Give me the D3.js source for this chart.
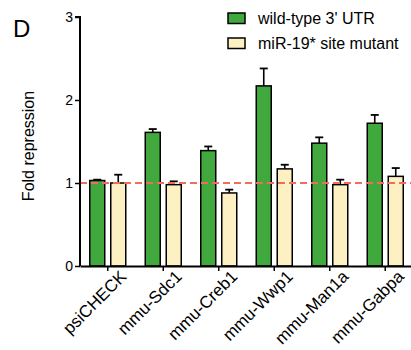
<!DOCTYPE html>
<html>
<head>
<meta charset="utf-8">
<script src="https://cdn.jsdelivr.net/npm/d3@7"></script>
<style>
  body { margin: 0; background: #fff; }
  text { font-family: "Liberation Sans", Arial, sans-serif; }
</style>
</head>
<body>
<svg id="viz" width="411" height="350"></svg>
<script>
// Fold repression per 3' UTR reporter
const categories = ["psiCHECK", "mmu-Sdc1", "mmu-Creb1", "mmu-Wwp1", "mmu-Man1a", "mmu-Gabpa"];
const series = ["wild-type 3' UTR", "miR-19* site mutant"];
const wildType = [1.03, 1.61, 1.39, 2.17, 1.48, 1.72];
const wildTypeErr = [0.01, 0.04, 0.05, 0.21, 0.07, 0.10];
const mutant = [1.00, 0.98, 0.88, 1.17, 0.98, 1.08];
const mutantErr = [0.10, 0.04, 0.04, 0.05, 0.06, 0.10];
const yTicks = [0, 1, 2, 3];

const colors = ["#41a83e", "#fdf1c3"];

const svg = d3.select("#viz");

// Step 1: scales
const x0 = d3.scaleBand()
    .domain(categories)
    .range([80, 413]);

const x1 = d3.scaleBand()
    .domain(series)
    .range([-18, 18])
    .paddingInner(0.2857);

const y = d3.scaleLinear()
    .domain([0, 3])
    .range([266, 17]);

const values = [wildType, mutant];
const errors = [wildTypeErr, mutantErr];

// Step 2: bars + error bars
series.forEach((s, si) => {
    const grp = svg.append("g");
    categories.forEach((c, ci) => {
        const cx = x0(c) + x0.bandwidth() / 2 + x1(s);
        const v = values[si][ci];
        const e = errors[si][ci];
        const mid = cx + x1.bandwidth() / 2;

        // error bar (upper only)
        grp.append("line")
            .attr("x1", mid).attr("x2", mid)
            .attr("y1", y(v)).attr("y2", y(v + e))
            .attr("stroke", "#000").attr("stroke-width", 1.6);
        grp.append("line")
            .attr("x1", mid - 4).attr("x2", mid + 4)
            .attr("y1", y(v + e)).attr("y2", y(v + e))
            .attr("stroke", "#000").attr("stroke-width", 1.8);

        grp.append("rect")
            .attr("x", cx)
            .attr("y", y(v))
            .attr("width", x1.bandwidth())
            .attr("height", y(0) - y(v))
            .attr("fill", colors[si])
            .attr("stroke", "#000")
            .attr("stroke-width", 1.5);
    });
});

// Step 3: reference line at 1
svg.append("line")
    .attr("x1", 80).attr("x2", 411)
    .attr("y1", y(1)).attr("y2", y(1))
    .attr("stroke", "#f26b5b")
    .attr("stroke-width", 2)
    .attr("stroke-dasharray", "7,4");

// Step 4: axes
const yAxis = d3.axisLeft(y)
    .tickValues(yTicks)
    .tickSize(5)
    .tickPadding(2)
    .tickFormat(d3.format("d"));

const yG = svg.append("g")
    .attr("transform", "translate(80,0)")
    .call(yAxis);
yG.select(".domain").attr("stroke-width", 2).attr("d", `M-5,${y(3)}H0V${y(0)}`);
yG.selectAll(".tick line").attr("stroke-width", 1.5);
yG.selectAll("text")
    .attr("font-size", "14px")
    .attr("font-family", "Liberation Sans, Arial, sans-serif")
    .attr("fill", "#000");

const xAxis = d3.axisBottom(x0)
    .tickSize(5)
    .tickSizeOuter(0);

const xG = svg.append("g")
    .attr("transform", `translate(0,${y(0)})`)
    .call(xAxis);
xG.select(".domain").attr("stroke-width", 2);
xG.selectAll(".tick line").attr("stroke-width", 1.5);
xG.selectAll("text")
    .attr("font-size", "17px")
    .attr("font-family", "Liberation Sans, Arial, sans-serif")
    .attr("fill", "#000")
    .attr("text-anchor", "end")
    .attr("dy", 0)
    .attr("transform", "translate(14,6) rotate(-45)");

// Y-axis label
svg.append("text")
    .attr("transform", "translate(34,146) rotate(-90)")
    .attr("text-anchor", "middle")
    .attr("font-size", "16px")
    .text("Fold repression");

// Panel letter
svg.append("text")
    .attr("x", 13)
    .attr("y", 37)
    .attr("font-size", "24px")
    .text("D");

// Legend
series.forEach((s, i) => {
    const ly = 13 + i * 25;
    svg.append("rect")
        .attr("x", 228)
        .attr("y", ly)
        .attr("width", 17)
        .attr("height", 10.5)
        .attr("fill", colors[i])
        .attr("stroke", "#000")
        .attr("stroke-width", 1.5);
    svg.append("text")
        .attr("x", 258)
        .attr("y", ly + 11)
        .attr("font-size", "16px")
        .text(s);
});
</script>
</body>
</html>
